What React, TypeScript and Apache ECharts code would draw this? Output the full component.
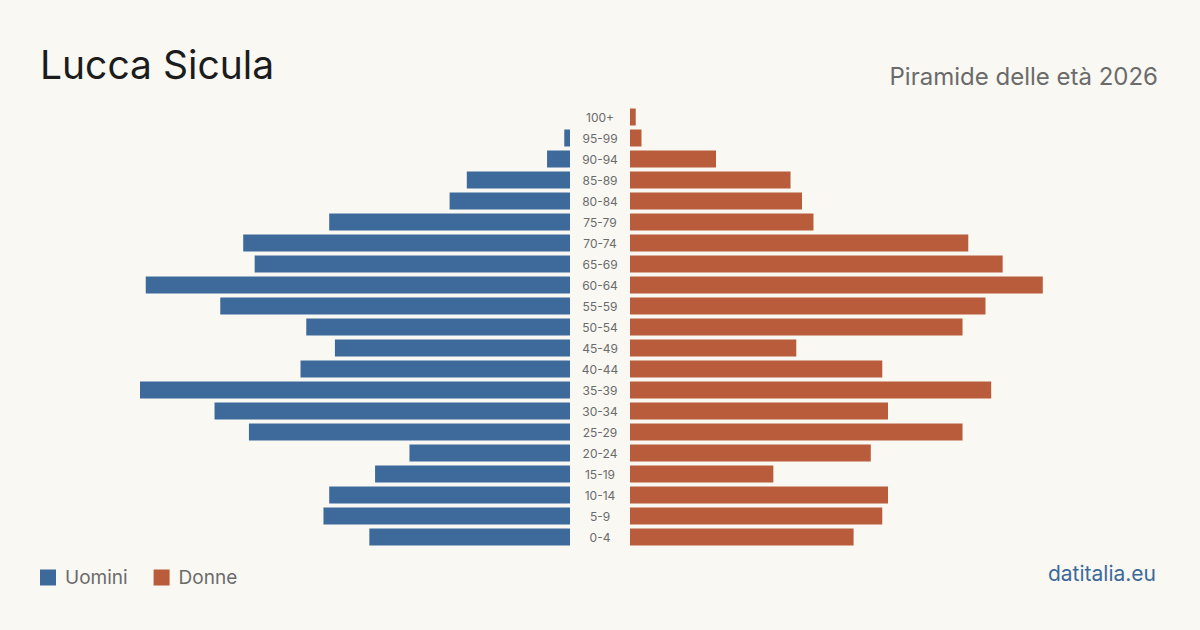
import React, { useEffect, useRef } from "react";
import * as echarts from "echarts";

const ageGroups = ["0-4","5-9","10-14","15-19","20-24","25-29","30-34","35-39","40-44","45-49","50-54","55-59","60-64","65-69","70-74","75-79","80-84","85-89","90-94","95-99","100+"];
const men = [35,43,42,34,28,56,62,75,47,41,46,61,74,55,57,42,21,18,4,1,0];
const women = [39,44,45,25,42,58,45,63,44,29,58,62,72,65,59,32,30,28,15,2,1];

const BLUE = "#3d6a9b";
const ORANGE = "#b95c3b";
const BG = "#f9f8f3";
const AXIS_MAX = 75;

export default function App() {
  const ref = useRef<HTMLDivElement>(null);
  useEffect(() => {
    if (!ref.current) return;
    const chart = echarts.init(ref.current, null, { renderer: "svg" });
    const font = "Inter, 'Noto Sans', sans-serif";
    chart.setOption({
      animation: false,
      backgroundColor: BG,
      textStyle: { fontFamily: font },
      grid: [
        { left: 140, width: 430, top: 106.5, height: 441 },
        { left: 630, width: 430, top: 106.5, height: 441 },
      ],
      xAxis: [
        { gridIndex: 0, type: "value", min: 0, max: AXIS_MAX, inverse: true, show: false },
        { gridIndex: 1, type: "value", min: 0, max: AXIS_MAX, show: false },
      ],
      yAxis: [
        {
          gridIndex: 0, type: "category", data: ageGroups, position: "right",
          axisLine: { show: false }, axisTick: { show: false },
          axisLabel: { align: "center", margin: 30, fontSize: 12, color: "#6b6b6b", fontFamily: font },
        },
        {
          gridIndex: 1, type: "category", data: ageGroups, show: false,
        },
      ],
      legend: {
        left: 40, top: 568, padding: 0, itemWidth: 16, itemHeight: 16, itemGap: 26,
        icon: "rect",
        textStyle: { fontSize: 19, color: "#6b6b6b", fontFamily: font, padding: [0, 0, 0, 4] },
        data: ["Uomini", "Donne"],
      },
      series: [
        {
          name: "Uomini", type: "bar", xAxisIndex: 0, yAxisIndex: 0, data: men,
          barWidth: 17, itemStyle: { color: BLUE },
        },
        {
          name: "Donne", type: "bar", xAxisIndex: 1, yAxisIndex: 1, data: women,
          barWidth: 17, itemStyle: { color: ORANGE },
        },
      ],
      graphic: [
        {
          type: "text", left: 40, top: 45,
          style: { text: "Lucca Sicula", fontSize: 39, fill: "#1c1c1c", fontFamily: font },
        },
        {
          type: "text", right: 42, top: 64,
          style: { text: "Piramide delle età 2026", fontSize: 24, fill: "#6b6b6b", fontFamily: font },
        },
        {
          type: "text", right: 44, top: 563,
          style: { text: "datitalia.eu", fontSize: 21, fill: BLUE, fontFamily: font },
        },
      ],
    });
    return () => chart.dispose();
  }, []);
  return <div ref={ref} style={{ width: 1200, height: 630, position: "absolute", left: 0, top: 0 }} />;
}
